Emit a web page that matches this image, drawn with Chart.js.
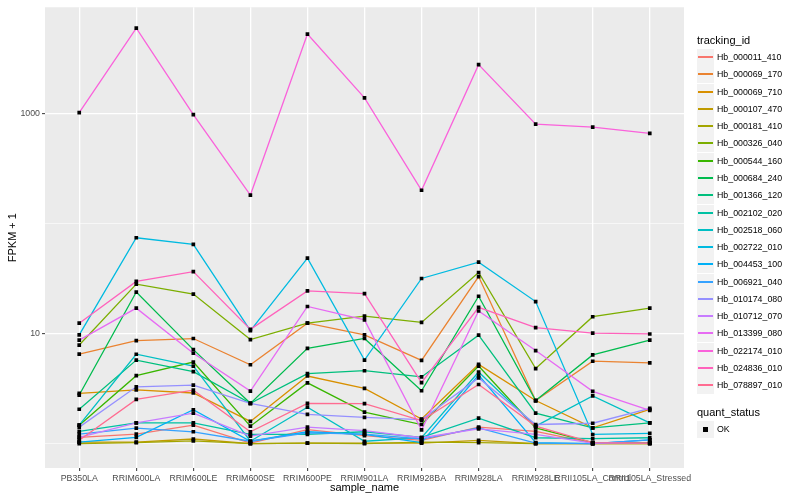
<!DOCTYPE html>
<html>
<head>
<meta charset="utf-8">
<script src="https://cdn.jsdelivr.net/npm/chart.js@4.4.1/dist/chart.umd.min.js"></script>
<style>
  body { margin: 0; background: #fff; font-family: "Liberation Sans", Arial, sans-serif; }
  #wrap { position: relative; width: 800px; height: 500px; }
  #legend { position: absolute; left: 697px; top: 0; width: 103px; height: 500px; }
  .ttl { position: absolute; left: 0; font-size: 11px; line-height: 13px; white-space: nowrap; color: #000; }
  .row { position: absolute; left: 0; height: 17px; width: 103px; }
  .key { position: absolute; left: 0; top: 0; width: 17px; height: 17px; background: #f2f2f2; }
  .key i { position: absolute; left: 1px; width: 15px; top: 7px; height: 2px; }
  .key b { position: absolute; left: 6px; top: 6px; width: 5px; height: 5px; background: #000; }
  .lab { position: absolute; left: 20px; top: 0; font-size: 8.8px; line-height: 17px; white-space: nowrap; color: #000; }
</style>
</head>
<body>
<div id="wrap">
  <canvas id="chart" width="800" height="500"></canvas>
  <div id="legend"></div>
</div>
<script>
// data (FPKM + 1)
const categories = ["PB350LA", "RRIM600LA", "RRIM600LE", "RRIM600SE", "RRIM600PE", "RRIM901LA",
    "RRIM928BA", "RRIM928LA", "RRIM928LE", "RRII105LA_Control", "RRII105LA_Stressed"];

const hb_000011_410 = [1.14, 1.22, 1.47, 1.01, 1.34, 1.18, 1.07, 1.41, 1.29, 1.01, 1.01];
const hb_000069_170 = [6.5, 8.6, 9.0, 5.2, 12.4, 9.7, 5.7, 32.9, 2.46, 5.6, 5.4];
const hb_000069_710 = [2.86, 3.08, 2.88, 1.59, 4.11, 3.17, 1.67, 5.24, 2.46, 1.39, 2.04];
const hb_000107_470 = [1.03, 1.03, 1.1, 1.0, 1.01, 1.01, 1.01, 1.07, 1.0, 1.0, 1.0];
const hb_000181_410 = [1.0, 1.02, 1.06, 1.0, 1.01, 1.0, 1.03, 1.02, 1.0, 1.0, 1.0];
const hb_000326_040 = [7.85, 28.1, 22.8, 8.8, 12.4, 14.4, 12.6, 35.8, 4.8, 14.2, 17.0];
const hb_000544_160 = [1.47, 4.14, 5.5, 1.44, 3.56, 1.93, 1.49, 5.06, 1.39, 1.02, 1.02];
const hb_000684_240 = [2.76, 23.8, 7.14, 2.32, 7.33, 9.02, 3.02, 21.8, 2.46, 6.39, 8.71];
const hb_001366_120 = [2.05, 5.73, 4.5, 2.32, 4.32, 4.59, 4.03, 9.66, 1.89, 1.39, 1.54];
const hb_002102_020 = [1.29, 1.54, 1.54, 1.21, 1.21, 1.28, 1.14, 1.7, 1.13, 1.11, 1.13];
const hb_002518_060 = [1.47, 6.48, 5.06, 1.05, 2.14, 1.05, 1.13, 4.47, 1.44, 2.71, 1.54];
const hb_002722_010 = [9.73, 74.1, 64.6, 10.6, 48.3, 5.73, 31.6, 44.5, 19.5, 1.21, 1.24];
const hb_004453_100 = [1.03, 1.14, 2.03, 1.05, 1.28, 1.21, 1.02, 4.2, 1.02, 1.0, 1.08];
const hb_006921_040 = [1.22, 1.38, 1.28, 1.05, 1.25, 1.22, 1.1, 1.39, 1.01, 1.0, 1.08];
const hb_010174_080 = [1.41, 3.28, 3.4, 2.32, 1.84, 1.73, 1.65, 3.95, 1.49, 1.53, 2.09];
const hb_010712_070 = [1.14, 1.54, 1.89, 1.17, 1.41, 1.31, 1.13, 1.36, 1.21, 1.01, 1.01];
const hb_013399_080 = [8.71, 17.0, 6.62, 3.0, 17.6, 13.3, 1.33, 16.0, 7.0, 2.98, 2.0];
const hb_022174_010 = [1015, 5940, 973, 181, 5250, 1383, 200, 2767, 797, 749, 658];
const hb_024836_010 = [12.4, 29.7, 36.5, 10.9, 24.4, 23.0, 3.58, 17.3, 11.3, 10.06, 9.9];
const hb_078897_010 = [1.07, 2.52, 3.06, 1.28, 2.32, 2.31, 1.62, 3.44, 1.44, 1.02, 1.01];

const seriesNames = ["Hb_000011_410", "Hb_000069_170", "Hb_000069_710", "Hb_000107_470", "Hb_000181_410",
    "Hb_000326_040", "Hb_000544_160", "Hb_000684_240", "Hb_001366_120", "Hb_002102_020",
    "Hb_002518_060", "Hb_002722_010", "Hb_004453_100", "Hb_006921_040", "Hb_010174_080",
    "Hb_010712_070", "Hb_013399_080", "Hb_022174_010", "Hb_024836_010", "Hb_078897_010"];
const seriesValues = [hb_000011_410, hb_000069_170, hb_000069_710, hb_000107_470, hb_000181_410,
    hb_000326_040, hb_000544_160, hb_000684_240, hb_001366_120, hb_002102_020,
    hb_002518_060, hb_002722_010, hb_004453_100, hb_006921_040, hb_010174_080,
    hb_010712_070, hb_013399_080, hb_022174_010, hb_024836_010, hb_078897_010];
const seriesColors = ["#F8766D", "#EA8331", "#D89000", "#C09B00", "#A3A500", "#7CAE00", "#39B600",
    "#00BB4E", "#00BF7D", "#00C1A3", "#00BFC4", "#00BAE0", "#00B0F6", "#35A2FF", "#9590FF",
    "#C77CFF", "#E76BF3", "#FA62DB", "#FF62BC", "#FF6C91"];

const yTickValues = [1, 10, 100, 1000];
const yTickLabels = ["", "10", "", "1000"];
const yMajor = [10, 1000];

const fontFamily = '"Liberation Sans", Arial, Helvetica, sans-serif';
Chart.defaults.font.family = fontFamily;

// one line per gene, ggplot draws the last one on top
const datasets = seriesNames.map((name, i) => ({
    label: name,
    data: seriesValues[i].map((v, j) => ({ x: j, y: v })),
    borderColor: seriesColors[i],
    borderWidth: 1.3,
    pointRadius: 0,
    fill: false,
    tension: 0,
    order: seriesNames.length - i
}));

// black points (quant_status OK) above all lines
datasets.push({
    type: "scatter",
    label: "OK",
    data: seriesValues.flatMap(vals => vals.map((v, j) => ({ x: j, y: v }))),
    pointStyle: "rect",
    pointRadius: 2.6,
    backgroundColor: "#000",
    borderWidth: 0,
    showLine: false,
    order: -1
});

// grey panel
const panelBg = {
    id: "panelBg",
    beforeDraw(chart) {
        const { ctx, chartArea: a } = chart;
        ctx.save();
        ctx.fillStyle = "#ebebeb";
        ctx.fillRect(a.left, a.top, a.right - a.left, a.bottom - a.top);
        ctx.restore();
    }
};

const isMajor = c => c.tick && yMajor.includes(c.tick.value);

new Chart(document.getElementById("chart"), {
    type: "line",
    data: { datasets: datasets },
    plugins: [panelBg],
    options: {
        responsive: false,
        animation: false,
        layout: { padding: { left: 0, right: 116, top: 5, bottom: 0 } },
        plugins: { legend: { display: false }, tooltip: { enabled: false } },
        scales: {
            x: {
                type: "linear",
                min: -0.6,
                max: 10.6,
                afterBuildTicks: axis => { axis.ticks = categories.map((c, i) => ({ value: i })); },
                afterFit: s => { s.height = 32; },
                ticks: {
                    callback: v => categories[v],
                    autoSkip: false, maxRotation: 0, minRotation: 0,
                    color: "#4d4d4d", font: { size: 8.8 }, padding: 2
                },
                grid: { color: "#ffffff", lineWidth: 1.3, tickLength: 3, tickColor: "#333333", tickWidth: 1 },
                border: { display: false },
                title: { display: true, text: "sample_name", color: "#000", font: { size: 11 }, padding: { top: 0, bottom: 5 } }
            },
            y: {
                type: "logarithmic",
                min: 0.647,
                max: 9190,
                afterBuildTicks: axis => { axis.ticks = yTickValues.map(v => ({ value: v })); },
                afterFit: s => { s.width = 45; },
                ticks: {
                    callback: v => yTickLabels[yTickValues.indexOf(v)],
                    autoSkip: false,
                    color: "#4d4d4d", font: { size: 8.8 }, padding: 2
                },
                grid: {
                    color: "#ffffff",
                    lineWidth: c => isMajor(c) ? 1.3 : 0.6,
                    tickLength: 3,
                    tickColor: c => isMajor(c) ? "#333333" : "rgba(0,0,0,0)",
                    tickWidth: 1
                },
                border: { display: false },
                title: { display: true, text: "FPKM + 1", color: "#000", font: { size: 11 }, padding: { top: 6, bottom: 0 } }
            }
        }
    }
});

// legend like ggplot, built from the same arrays
const legend = document.getElementById("legend");
let html = '<div class="ttl" style="top:34px">tracking_id</div>';
seriesNames.forEach((name, i) => {
    const top = Math.round(49 + i * 17.28);
    html += '<div class="row" style="top:' + top + 'px"><div class="key"><i style="background:' + seriesColors[i] + '"></i></div>'
        + '<div class="lab">' + name + '</div></div>';
});
html += '<div class="ttl" style="top:406px">quant_status</div>';
html += '<div class="row" style="top:421px"><div class="key"><b></b></div><div class="lab">OK</div></div>';
legend.innerHTML = html;
</script>
</body>
</html>
